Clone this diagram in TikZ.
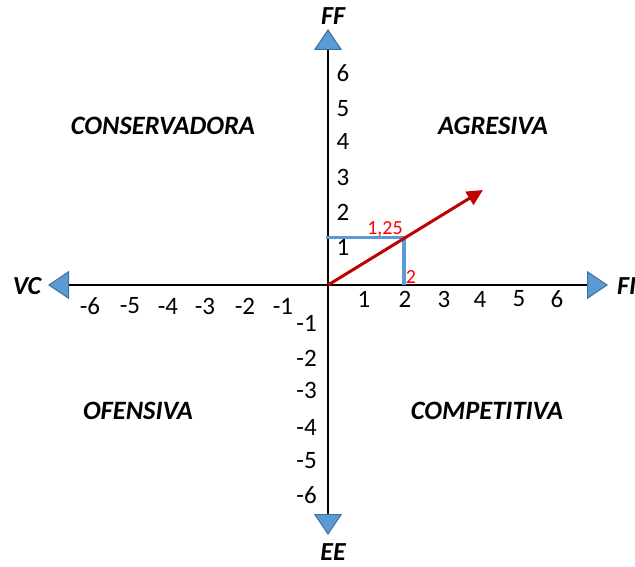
\documentclass[tikz,border=0pt]{standalone}
\usepackage{fontspec}
\setmainfont{Carlito}
\usetikzlibrary{arrows.meta}
\definecolor{ejeazul}{RGB}{91,155,213}
\definecolor{ejeborde}{RGB}{65,113,156}
\definecolor{vectorrojo}{RGB}{192,0,0}
\tikzset{
  punta/.tip={Triangle[length=21pt, width=28pt, fill=ejeazul, color=ejeborde, line width'=1pt]},
  eje/.style={line width=2pt, black, punta-punta},
  polo/.style={inner sep=0pt, font=\fontsize{26}{30}\selectfont\bfseries\itshape},
  cuadrante/.style={inner sep=0pt, font=\fontsize{26.5}{30}\selectfont\bfseries\itshape},
  escala/.style={inner sep=0pt, font=\fontsize{25}{30}\selectfont},
  dato/.style={inner sep=0pt, text=red, font=\fontsize{20}{24}\selectfont},
  guia/.style={line width=3.5pt, ejeazul},
  vector/.style={line width=3pt, vectorrojo, -{Triangle[length=16pt, width=15pt]}}
}
\begin{document}
\begin{tikzpicture}[x=1pt, y=-1pt]
  \useasboundingbox (0,0) rectangle (635,567);
  % ejes
  \coordinate (origen) at (328,285);
  \coordinate (ejeO) at (48,285);
  \coordinate (ejeE) at (608,285);
  \coordinate (ejeN) at (328,29);
  \coordinate (ejeS) at (328,535);
  \draw [eje] (ejeO) -- (ejeE);
  \draw [eje] (ejeS) -- (ejeN);
  \node (vc) [polo] at (27,286) {VC};
  \node (fi) [polo, anchor=west] at (617,286) {FI};
  \node (ff) [polo] at (333,16) {FF};
  \node (ee) [polo] at (333,552) {EE};
  % cuadrantes
  \node (conservadora) [cuadrante] at (163,126) {CONSERVADORA};
  \node (agresiva) [cuadrante] at (493,126) {AGRESIVA};
  \node (ofensiva) [cuadrante] at (138,411) {OFENSIVA};
  \node (competitiva) [cuadrante] at (487,411) {COMPETITIVA};
  % escalas
  \foreach \v/\x in {1/364, 2/405, 3/444, 4/480, 5/519, 6/557}
    \node (xp\v) [escala] at (\x,299) {\v};
  \foreach \v/\x in {6/90, 5/130, 4/168, 3/205, 2/245, 1/283}
    \node (xn\v) [escala] at (\x,306) {-\v};
  \foreach \v/\y in {1/247, 2/212, 3/177, 4/141, 5/109, 6/73}
    \node (yp\v) [escala] at (343,\y) {\v};
  \foreach \v/\y in {1/323, 2/358, 3/390, 4/427, 5/461, 6/495}
    \node (yn\v) [escala, anchor=east] at (317,\y) {-\v};
  % vector
  \coordinate (p2) at (404,285);
  \coordinate (p125) at (404,237.5);
  \coordinate (y125) at (326,237.5);
  \coordinate (destino) at (483,190);
  \draw [guia] (y125) -- (p125) -- (p2);
  \draw [vector] (origen) -- (destino);
  \node (l125) [dato] at (385,229) {1,25};
  \node (l2) [dato] at (411,277) {2};
\end{tikzpicture}
\end{document}
